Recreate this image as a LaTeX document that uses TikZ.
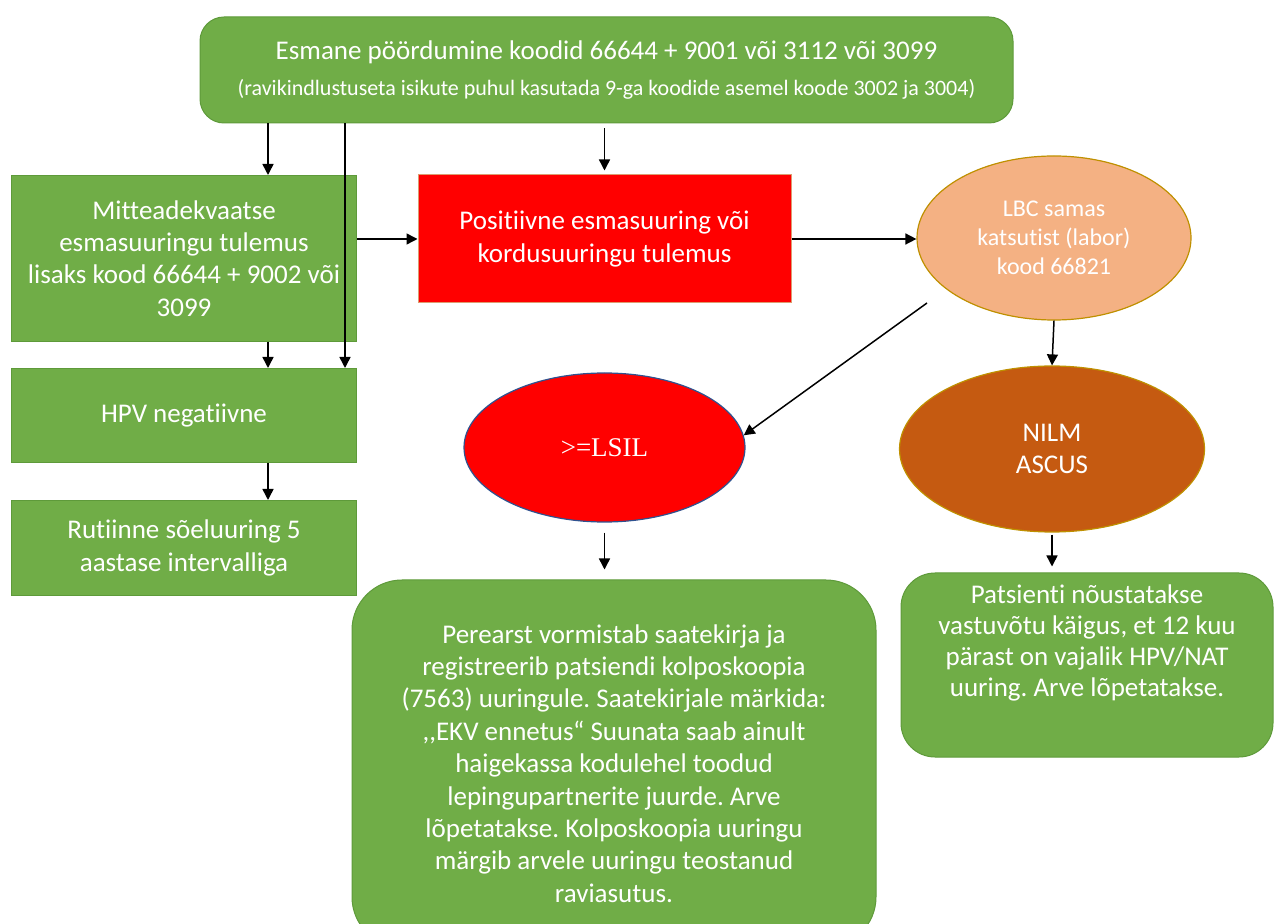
\documentclass[tikz,border=0pt]{standalone}
\usepackage{fontspec}
\setmainfont{Carlito}[Ligatures={NoCommon}]
\newfontfamily\timesfont{Liberation Serif}
\usetikzlibrary{positioning, arrows.meta, shapes.geometric}
\frenchspacing
\definecolor{grn}{HTML}{70AD47}
\definecolor{grnline}{HTML}{5E9A3A}
\definecolor{peach}{HTML}{F4B183}
\definecolor{rust}{HTML}{C55A11}
\definecolor{gold}{HTML}{BF9000}
\definecolor{navy}{HTML}{2F528F}
\tikzset{
  box/.style={rectangle, fill=grn, draw=grnline, line width=0.5pt, text=white,
    align=center, inner sep=0pt, font=\fontsize{13.5}{16.2}\selectfont},
  oval/.style={ellipse, inner sep=0pt, text=white, align=center, line width=0.6pt},
  arr/.style={-{Triangle[length=5.5pt,width=5.5pt]}, line width=0.75pt, black}
}
\begin{document}
\begin{tikzpicture}[x=0.5pt, y=-0.5pt]
  \useasboundingbox (0,0) rectangle (1274,924);

  \node[box, rounded corners=12pt, minimum width=406.5pt, minimum height=53pt] (esmane) at (606.5,70)
    {Esmane pöördumine koodid 66644 + 9001 või 3112 või 3099\\[1.5pt]
     {\fontsize{11}{13}\selectfont (ravikindlustuseta isikute puhul kasutada 9-ga koodide asemel koode 3002 ja 3004)}};
  \node[box, minimum width=172.5pt, minimum height=83pt] (mitte) at (184,258.5)
    {Mitteadekvaatse\\esmasuuringu tulemus\\lisaks kood 66644 + 9002 või\\3099};
  \node[box, minimum width=172.5pt, minimum height=47pt] (hpvneg) [below=13pt of mitte] {HPV negatiivne};
  \node[box, minimum width=172.5pt, minimum height=47.5pt] (rutiin) [below=18.5pt of hpvneg]
    {Rutiinne sõeluuring 5\\aastase intervalliga};
  \node[box, fill=red, draw=rust!60, minimum width=186.5pt, minimum height=64pt] (posit) at (604.5,239)
    {Positiivne esmasuuring või\\kordusuuringu tulemus};
  \node[oval, fill=peach, draw=gold, minimum width=137pt, minimum height=82pt,
    font=\fontsize{12}{14.5}\selectfont] (lbc) at (1054,238) {LBC samas\\katsutist (labor)\\kood 66821};
  \node[oval, fill=red, draw=navy, minimum width=140.5pt, minimum height=74.5pt,
    font=\timesfont\fontsize{13.5}{15}\selectfont] (lsil) at (604.5,447.5) {>=LSIL};
  \node[oval, fill=rust, draw=gold, minimum width=152.5pt, minimum height=83pt,
    font=\fontsize{13.5}{16.2}\selectfont] (nilm) at (1052,449) {NILM\\ASCUS};
  \node[box, rounded corners=25pt, minimum width=262pt, minimum height=183.5pt] (perearst) at (614,763.5)
    {Perearst vormistab saatekirja ja\\registreerib patsiendi kolposkoopia\\(7563) uuringule. Saatekirjale märkida:\\
     ,{},EKV ennetus“ Suunata saab ainult\\haigekassa kodulehel toodud\\lepingupartnerite  juurde. Arve\\
     lõpetatakse. Kolposkoopia uuringu\\märgib arvele uuringu teostanud\\raviasutus.};
  \node[box, rounded corners=17pt, minimum width=186pt, minimum height=92pt,
    label={[text=white, align=center, font=\fontsize{13.5}{15.5}\selectfont, yshift=11pt]center:{Patsienti nõustatakse\\vastuvõtu käigus, et 12 kuu\\pärast on vajalik HPV/NAT\\uuring. Arve lõpetatakse.}}]
    (patsient) at (1087,665) {};

  \coordinate (c1) at (268,0);
  \coordinate (c2) at (345,0);
  \coordinate (d1) at (927,303);

  \path[arr]
    (esmane.south -| c1) edge (mitte.north -| c1)
    (esmane.south -| c2) edge (hpvneg.north -| c2)
    (esmane.south -| posit.north) edge[shorten <=2.5pt, shorten >=2pt] (posit.north)
    (mitte.east |- posit.west) edge (posit.west)
    (posit.east) edge (posit.east -| lbc.west)
    (mitte.south -| c1) edge (hpvneg.north -| c1)
    (hpvneg.south -| c1) edge (rutiin.north -| c1)
    (d1) edge (lsil.5)
    (lbc.south) edge (nilm.north)
    (lsil.south) edge[shorten <=5pt, shorten >=5pt] (lsil.south |- perearst.north)
    (nilm.south) edge[shorten <=1pt, shorten >=3pt] (nilm.south |- patsient.north)
    ;
\end{tikzpicture}
\end{document}
